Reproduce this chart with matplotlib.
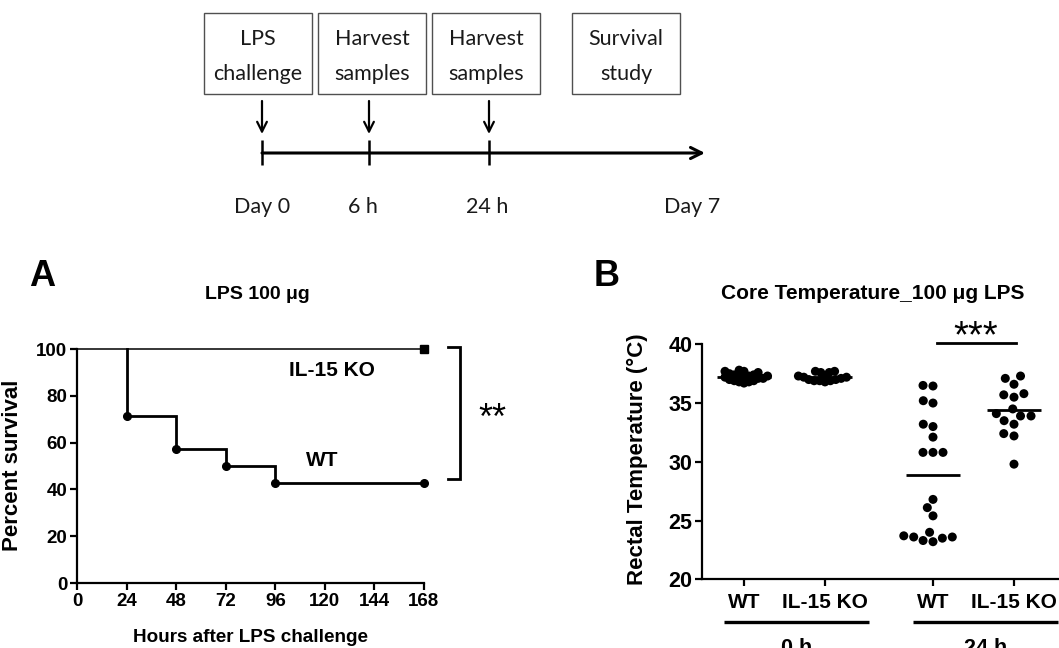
import numpy as np
import matplotlib
matplotlib.use("Agg")
import matplotlib.pyplot as plt
from matplotlib.patches import Rectangle
from matplotlib.transforms import blended_transform_factory

# ---------------- data ----------------
# protocol timeline
box_lines = [("LPS", "challenge"), ("Harvest", "samples"),
             ("Harvest", "samples"), ("Survival", "study")]
time_labels = ["Day 0", "6 h", "24 h", "Day 7"]

# (A) Kaplan-Meier survival after 100 ug LPS
surv_hours = [0, 24, 48, 72, 96, 168]
surv_wt = [100, 71.4, 57.1, 50.0, 42.9, 42.9]
surv_ko = [100, 100, 100, 100, 100, 100]
hour_ticks = [0, 24, 48, 72, 96, 120, 144, 168]
pct_ticks = [0, 20, 40, 60, 80, 100]

# (B) rectal temperature (deg C)
temp_groups = ["WT", "IL-15 KO", "WT", "IL-15 KO"]
temp_timepoints = ["0 h", "24 h"]
temp_wt_0h = [37.8, 37.7, 37.7, 37.6, 37.5, 37.4, 37.4, 37.3, 37.3, 37.3,
              37.2, 37.2, 37.1, 37.1, 37.0, 36.9, 36.9, 36.8, 36.8, 36.7]
temp_ko_0h = [37.7, 37.7, 37.6, 37.6, 37.3, 37.3, 37.2, 37.2, 37.1, 37.0,
              37.0, 36.9, 36.9, 36.9, 36.8]
temp_wt_24h = [36.5, 36.45, 35.2, 35.0, 33.2, 33.0, 32.1, 30.8, 30.8, 30.8,
               26.8, 26.1, 25.4, 24.0, 23.7, 23.6, 23.6, 23.5, 23.3, 23.2]
temp_ko_24h = [37.3, 37.1, 36.6, 35.8, 35.7, 35.5, 34.5, 34.1, 33.9, 33.9,
               33.5, 33.2, 32.4, 32.2, 29.8]
temp_ticks = [20, 25, 30, 35, 40]

# ---------------- figure ----------------
W, H = 1059, 648
fig = plt.figure(figsize=(W / 100, H / 100), dpi=100)
fig.patch.set_facecolor("white")
BOLD = dict(family="Liberation Sans", weight="bold")

# timeline diagram drawn in a pixel-space overlay
ov = fig.add_axes([0, 0, 1, 1])
ov.set_xlim(0, W)
ov.set_ylim(H, 0)
ov.axis("off")

box_x = [204, 318, 432, 572]
box_w, box_top, box_h = 108, 13, 81
tick_x = [262, 369, 489]
label_x = [262, 363, 487, 692]
line_y = 153
for bx, (l1, l2) in zip(box_x, box_lines):
    ov.add_patch(Rectangle((bx, box_top), box_w, box_h, fill=False,
                           edgecolor="#505050", lw=1.0))
    ov.text(bx + box_w / 2, 45, l1, ha="center", va="baseline",
            family="Lato", fontsize=15.5, color="#1a1a1a")
    ov.text(bx + box_w / 2, 80, l2, ha="center", va="baseline",
            family="Lato", fontsize=15.5, color="#1a1a1a")
for tx in tick_x:
    ov.annotate("", xy=(tx, 134), xytext=(tx, 101),
                arrowprops=dict(arrowstyle="->,head_length=0.7,head_width=0.35",
                                lw=1.6, color="black", shrinkA=0, shrinkB=0))
    ov.plot([tx, tx], [140, 165], color="black", lw=1.8,
            solid_capstyle="butt")
ov.annotate("", xy=(705, line_y), xytext=(tick_x[0], line_y),
            arrowprops=dict(arrowstyle="->,head_length=0.8,head_width=0.4",
                            lw=2.2, color="black", shrinkA=0, shrinkB=0))
for lx, lab in zip(label_x, time_labels):
    ov.text(lx, 213, lab, ha="center", va="baseline", family="Lato",
            fontsize=15.5, color="#1a1a1a")

# panel letters
ov.text(42, 277, "A", ha="center", va="center", fontsize=26, **BOLD)
ov.text(607, 276, "B", ha="center", va="center", fontsize=26, **BOLD)


def style_axes(ax, lw=1.6):
    for side in ("top", "right"):
        ax.spines[side].set_visible(False)
    for side in ("left", "bottom"):
        ax.spines[side].set_linewidth(lw)
    ax.tick_params(direction="out", length=5, width=lw, color="black")


# ---------------- panel A ----------------
axA = fig.add_axes([77 / W, (H - 583) / H, 347 / W, 234 / H])
style_axes(axA)
axA.set_xlim(0, 168)
axA.set_ylim(0, 100)
axA.set_xticks(hour_ticks)
axA.set_yticks(pct_ticks)
for lab in axA.get_xticklabels() + axA.get_yticklabels():
    lab.set_fontsize(13.5)
    lab.set_fontfamily("Liberation Sans")
    lab.set_fontweight("bold")
axA.tick_params(pad=2)

# IL-15 KO: no deaths -> flat line
axA.plot(surv_hours, surv_ko, color="black", lw=1.1, zorder=3, clip_on=False)
axA.plot(surv_hours[-1], surv_ko[-1], "s", color="black", ms=5.5,
         zorder=4, clip_on=False)
# WT: step curve from the first event onward
step_x, step_y = [], []
for i in range(1, len(surv_hours)):
    step_x += [surv_hours[i], surv_hours[i]]
    step_y += [surv_wt[i - 1], surv_wt[i]]
axA.plot(step_x, step_y, color="black", lw=2.0, zorder=3, clip_on=False,
         solid_joinstyle="miter")
axA.plot(surv_hours[1:], surv_wt[1:], "o", color="black", ms=5.5,
         zorder=4, clip_on=False)

axA.text(123.5, 91, "IL-15 KO", ha="center", va="center", fontsize=15, **BOLD)
axA.text(118.5, 52.5, "WT", ha="center", va="center", fontsize=15, **BOLD)
# significance bracket
axA.plot([179.5, 185.5, 185.5, 179.5],
         [surv_ko[-1] + 0.8, surv_ko[-1] + 0.8, surv_wt[-1] + 1.5, surv_wt[-1] + 1.5],
         color="black", lw=2.0, clip_on=False, solid_joinstyle="miter")
axA.text(201, 66.0, "**", ha="center", va="baseline",
         fontsize=26, family="Liberation Sans", clip_on=False)

axA.set_ylabel("Percent survival", fontsize=16, **BOLD)
axA.yaxis.set_label_coords(-0.156, 0.504)
axA.text(0.499, -0.231, "Hours after LPS challenge", transform=axA.transAxes,
         ha="center", va="center", fontsize=13.6, **BOLD)
axA.text(0.519, 1.231, "LPS 100 μg", transform=axA.transAxes,
         ha="center", va="center", fontsize=14, **BOLD)

# ---------------- panel B ----------------
bx0, bx1 = 702, W
by0, by1 = 579.3, 344.3
axB = fig.add_axes([bx0 / W, (H - by0) / H, (bx1 - bx0) / W, (by0 - by1) / H])
style_axes(axB)
px_per_x = 81.0
x_left = 1 - (744 - bx0) / px_per_x
axB.set_xlim(x_left, x_left + (bx1 - bx0) / px_per_x)
axB.set_ylim(20, 40)
axB.set_yticks(temp_ticks)
px_per_y = (by0 - by1) / 20.0

positions = [1.0, 2.0, 3 + 1 / 3, 4 + 1 / 3]
axB.set_xticks(positions)
axB.set_xticklabels(temp_groups)
for lab in axB.get_xticklabels():
    lab.set_fontsize(15)
    lab.set_fontfamily("Liberation Sans")
    lab.set_fontweight("bold")
for lab in axB.get_yticklabels():
    lab.set_fontsize(15.5)
    lab.set_fontfamily("Liberation Sans")
    lab.set_fontweight("bold")
axB.tick_params(axis="x", pad=5)
axB.tick_params(axis="y", pad=2)


def swarm(values, d_px):
    """Beeswarm offsets (data x units): nearest-to-centre non-overlapping spots."""
    vals = np.asarray(values, float)
    offs = np.zeros(len(vals))
    placed = []
    for i in np.argsort(vals):
        y = vals[i] * px_per_y
        cands = [0.0]
        for xo, yo in placed:
            dy = y - yo
            if abs(dy) < d_px:
                dx = np.sqrt(d_px ** 2 - dy ** 2)
                cands += [xo + dx, xo - dx]
        cands.sort(key=lambda c: (abs(c), c))
        for c in cands:
            if all((c - xo) ** 2 + (y - yo) ** 2 >= d_px ** 2 - 1e-6
                   for xo, yo in placed):
                break
        placed.append((c, y))
        offs[i] = c
    return offs / px_per_x


groups = [temp_wt_0h, temp_ko_0h, temp_wt_24h, temp_ko_24h]
spacing = [5.0, 5.5, 10.0, 10.5]
for pos, vals, d in zip(positions, groups, spacing):
    xo = swarm(vals, d)
    axB.scatter(pos + xo, vals, s=42, color="black", edgecolors="none",
                zorder=3, clip_on=False)
    m = np.mean(vals)
    axB.plot([pos - 0.33, pos + 0.33], [m, m], color="black", lw=2.0,
             zorder=4, solid_capstyle="butt")

# significance line for the 24 h comparison
axB.plot([positions[2] + 0.05, positions[3] + 0.02], [40.1, 40.1],
         color="black", lw=2.0, clip_on=False)
axB.text((positions[2] + positions[3]) / 2 + 0.03, 39.72, "***",
         ha="center", va="baseline", fontsize=27.5, family="Liberation Sans",
         clip_on=False)

# group underlines and time-point labels below the axis
tr = blended_transform_factory(axB.transData, axB.transAxes)
for k, tp in enumerate(temp_timepoints):
    left = positions[2 * k] - 0.25
    right = positions[2 * k + 1] + 0.54
    axB.plot([left, right], [-0.18, -0.18], transform=tr, color="black",
             lw=2.4, clip_on=False, solid_capstyle="butt")
    axB.text((left + right) / 2, -0.25, tp, transform=tr, ha="center",
             va="top", fontsize=15.5, clip_on=False, **BOLD)

axB.set_ylabel("Rectal Temperature (°C)", fontsize=16, **BOLD)
axB.yaxis.set_label_coords(-0.151, 0.512)
axB.text(0.479, 1.218, "Core Temperature_100 μg LPS", transform=axB.transAxes,
         ha="center", va="center", fontsize=15, **BOLD)

fig.savefig("out.png", dpi=100, facecolor="white")
